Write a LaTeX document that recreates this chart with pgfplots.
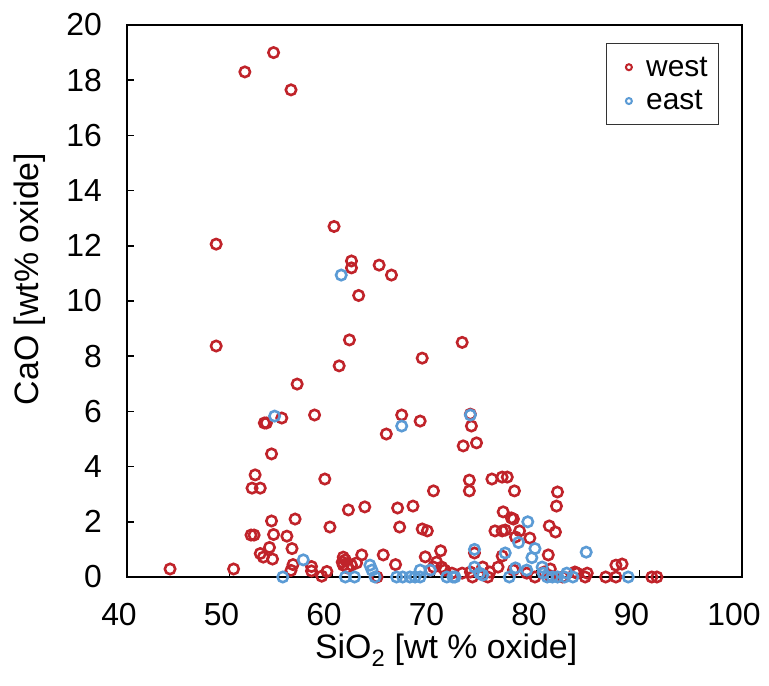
\documentclass[border=0pt]{standalone}
\usepackage{fontspec}
\setmainfont{Liberation Sans}
\usepackage{pgfplots}
\pgfplotsset{compat=1.18}
\definecolor{westred}{RGB}{192,35,42}
\definecolor{eastblue}{RGB}{91,155,213}
\begin{document}
\begin{tikzpicture}
\begin{axis}[
  scale only axis, width=615bp, height=552bp,
  xmin=40, xmax=100, ymin=0, ymax=20,
  xtick={40,50,...,100}, ytick={0,2,...,20},
  tick pos=left, tick align=inside,
  major tick length=7bp,
  every tick/.style={black, line width=1.5bp},
  axis line style={black, line width=1.6bp},
  /pgf/number format/assume math mode=true,
  ticklabel style={font=\fontsize{32}{38}\selectfont, inner sep=0pt},
  xticklabel style={anchor=base, yshift=-48bp, xshift=-8bp},
  yticklabel style={anchor=east, xshift=-25bp},
  xlabel={SiO\textsubscript{2} [wt \% oxide]},
  ylabel={CaO [wt\% oxide]},
  label style={font=\fontsize{34}{40}\selectfont},
  xlabel style={at={(axis description cs:0.519,-0.147)}, anchor=base, inner sep=0pt},
  ylabel style={at={(axis description cs:-0.158,0.54)}, anchor=center, inner sep=0pt},
  legend style={at={(0.963,0.967)}, anchor=north east, draw=black!80, line width=1.2bp,
    font=\fontsize{30}{34}\selectfont, inner xsep=9bp, inner ysep=11bp, row sep=9bp,
    nodes={inner sep=2bp}},
  legend cell align=left,
  legend image code/.code={\path (0bp,0bp) (26bp,0bp);
    \draw[#1, mark size=3bp, line width=2bp] plot coordinates {(12bp,0bp)};},
]
\coordinate (sw) at (rel axis cs:0,0);
\coordinate (ne) at (rel axis cs:1,1);
\addplot[only marks, mark=o, draw=westred, line width=2.6bp, mark size=5.2bp] coordinates {
(44.2,0.29) (50.4,0.29) (48.7,12.06) (48.7,8.37) (51.5,18.3) (54.3,19.0) (56.0,17.65)
(60.2,12.7) (61.9,11.45) (61.9,11.2) (64.6,11.3) (65.8,10.94) (62.6,10.2) (61.7,8.59)
(60.7,7.65) (56.6,6.99) (58.3,5.87) (55.1,5.76) (53.4,5.58) (53.6,5.58) (54.1,4.46)
(52.5,3.70) (52.2,3.22) (53.0,3.22) (59.3,3.55) (54.1,2.03) (56.4,2.10) (61.6,2.43)
(63.2,2.54) (59.8,1.81) (52.1,1.52) (52.4,1.52) (54.3,1.54) (55.6,1.48) (53.9,1.07)
(56.1,1.03) (53.0,0.85) (53.3,0.72) (54.2,0.65) (56.2,0.45) (56.0,0.24) (58.0,0.38)
(58.0,0.22) (59.0,0.03) (59.5,0.20) (61.1,0.72) (61.3,0.62) (61.0,0.54) (61.1,0.43)
(61.9,0.43) (62.4,0.51) (62.9,0.80) (61.5,0.33) (64.4,0.0) (65.0,0.80) (66.2,0.45)
(66.6,1.81) (66.4,2.50) (67.9,2.57) (68.8,1.74) (69.3,1.67) (69.1,0.73) (70.6,0.95)
(65.3,5.18) (66.8,5.87) (68.6,5.65) (68.8,7.93) (69.9,3.12) (72.7,8.50) (73.5,5.90)
(73.6,5.47) (72.8,4.75) (74.1,4.86) (73.4,3.51) (73.4,3.12) (75.6,3.55) (76.6,3.62)
(77.1,3.62) (77.8,3.12) (76.7,2.36) (77.5,2.14) (77.7,2.10) (75.9,1.67) (76.6,1.67)
(76.9,1.70) (78.3,1.67) (77.9,1.45) (79.3,1.41) (81.2,1.85) (81.8,1.63) (81.9,2.57)
(82.0,3.08) (81.1,0.80) (73.9,0.87) (76.6,0.76) (87.7,0.43) (88.3,0.47) (86.7,0.0)
(87.7,0.0) (91.2,0.0) (91.7,0.0)
(69.6,0.25) (70.7,0.36) (71.0,0.25) (71.7,0.14) (72.7,0.14) (73.7,0.0) (74.7,0.36)
(75.2,0.0) (76.2,0.36) (77.7,0.25) (79.0,0.14) (79.8,0.0) (81.3,0.29) (82.5,0.0)
(83.9,0.14) (84.7,0.0) (84.9,0.14) (80.7,0.18) (81.3,0.04) (83.7,0.18)
(70.2,0.54) (69.9,0.36) (73.5,0.18) (75.4,0.18)
};
\addlegendentry{west}
\addplot[only marks, mark=o, draw=eastblue, line width=2.6bp, mark size=5.2bp] coordinates {
(60.9,10.94) (54.4,5.83) (66.8,5.47) (73.5,5.87) (57.2,0.62) (55.2,0.0) (61.3,0.0)
(62.2,0.0) (63.7,0.43) (63.9,0.25) (64.2,0.0) (66.3,0.0) (66.9,0.0) (67.6,0.0)
(68.1,0.0) (68.6,0.25) (69.6,0.25) (68.6,0.0) (71.2,0.0) (72.0,0.0) (73.9,1.00)
(73.9,0.36) (74.7,0.07) (76.9,0.87) (77.3,0.0) (78.2,1.25) (79.1,2.00) (79.8,1.03)
(79.5,0.70) (77.9,0.33) (79.0,0.25) (80.5,0.36) (80.6,0.14) (81.0,0.0) (81.5,0.0)
(82.0,0.0) (82.7,0.0) (82.9,0.14) (83.5,0.0) (84.8,0.90) (88.9,0.0) (74.4,0.14)
(71.8,0.0)
};
\addlegendentry{east}
\end{axis}
\pgfresetboundingbox
\path ([xshift=-127bp,yshift=-109bp]sw) rectangle ([xshift=27bp,yshift=25bp]ne);
\end{tikzpicture}
\end{document}
